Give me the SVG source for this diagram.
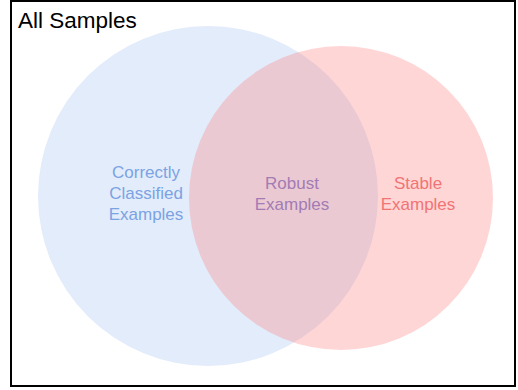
<svg xmlns="http://www.w3.org/2000/svg" width="518" height="390" viewBox="0 0 518 390">
<style>
text{font-family:"Liberation Sans",Arial,sans-serif;}
.lbl{font-size:17px;text-anchor:middle;}
</style>
<rect x="0" y="0" width="518" height="390" fill="#fff"/>
<rect x="11" y="1" width="504" height="385" fill="#fff" stroke="#000" stroke-width="2"/>
<g id="correct">
<circle cx="208" cy="196" r="170" fill="#e3ecfb"/>
</g>
<g id="stable">
<circle cx="341" cy="198" r="152" fill="#ff7878" fill-opacity="0.3"/>
</g>
<g id="all"><text x="18" y="28" font-size="22.5" fill="#000">All Samples</text></g>
<g id="correct-label" fill="#7ba3e3">
<text class="lbl" x="146" y="178">Correctly</text>
<text class="lbl" x="146" y="199">Classified</text>
<text class="lbl" x="146" y="220">Examples</text>
</g>
<g id="robust" fill="#a27cb4">
<text class="lbl" x="292" y="189">Robust</text>
<text class="lbl" x="292" y="210">Examples</text>
</g>
<g id="stable-label" fill="#f07474">
<text class="lbl" x="418" y="189">Stable</text>
<text class="lbl" x="418" y="210">Examples</text>
</g>
<g id="connectors"/>
</svg>
